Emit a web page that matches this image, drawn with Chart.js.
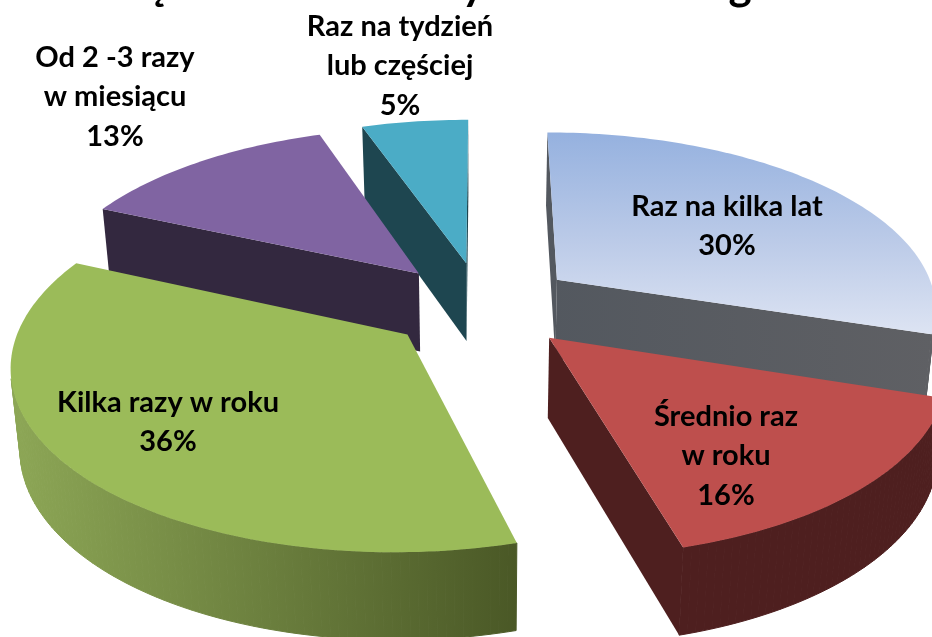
<!DOCTYPE html>
<html>
<head>
<meta charset="utf-8">
<title>Pie</title>
<script src="https://cdn.jsdelivr.net/npm/chart.js@4"></script>
<style>
  html, body { margin: 0; padding: 0; background: #fff; overflow: hidden; }
  canvas { display: block; }
</style>
</head>
<body>
<canvas id="pie" width="932" height="637"></canvas>
<script>
/* global Chart */

var categories = ["Raz na kilka lat", "Średnio raz w roku", "Kilka razy w roku", "Od 2 -3 razy w miesiącu", "Raz na tydzień lub częściej"];
// the labels show these rounded
var values = [30, 15.7, 36, 13, 5.3];

// how each label is broken and where its block is centred
var labelLines = [["Raz na kilka lat"], ["Średnio raz", "w roku"], ["Kilka razy w roku"], ["Od 2 -3 razy", "w miesiącu"], ["Raz na tydzień", "lub częściej"]];
var labelCenters = [[727, 226], [726, 456], [168, 422], [115, 97], [400, 66]];

// only the tails of the title survive in the crop
var titleTails = ["ą", "y", "g"];
var titleTailX = [153, 473, 740];

var topColors = [null, "#BE4F4D", "#9BBB59", "#8064A2", "#4BACC6"];
var sideColors = [["#53585f", "#5f6064"], ["#4e1f1f", "#4e1f1f"], ["#8da756", "#4a5826"], ["#33283f", "#33283f"], ["#1e4650", "#1e4650"]];
var drawOrder = [4, 0, 3, 2, 1];

var view = { cx: 481.5, cy: 305, rx: 381, ry: 176, persp: 0.148, explode: 0.25 };

function project(x, y) {
  var w = 1 - view.persp * y;
  return { x: view.cx + (view.rx * x) / w, y: view.cy + (view.ry * y) / w };
}

function dropDown(p) {
  return { x: p.x + (480 - p.x) * 0.02, y: p.y + 78 + (p.y - 270) * 0.035 };
}

function sliceOutline(arc) {
  var a0 = arc.startAngle + Math.PI / 2;
  var a1 = arc.endAngle + Math.PI / 2;
  var mid = (a0 + a1) / 2;
  var ox = view.explode * Math.sin(mid);
  var oy = -view.explode * Math.cos(mid);
  var pts = [project(ox, oy)];
  var n = Math.ceil((a1 - a0) / 0.02);
  for (var i = 0; i <= n; i++) {
    var t = a0 + ((a1 - a0) * i) / n;
    pts.push(project(ox + Math.sin(t), oy - Math.cos(t)));
  }
  return pts;
}

function fillPoly(ctx, pts) {
  ctx.beginPath();
  pts.forEach(function (p, i) {
    if (i === 0) ctx.moveTo(p.x, p.y);
    else ctx.lineTo(p.x, p.y);
  });
  ctx.closePath();
  ctx.fill();
}

var pie3d = {
  id: "pie3d",
  beforeDatasetsDraw: function (chart) {
    var ctx = chart.ctx;
    var arcs = chart.getDatasetMeta(0).data;
    drawOrder.forEach(function (idx) {
      var pts = sliceOutline(arcs[idx]);
      var xs = pts.map(function (p) { return p.x; });
      var grad = ctx.createLinearGradient(Math.min.apply(null, xs), 0, Math.max.apply(null, xs), 0);
      grad.addColorStop(0, sideColors[idx][0]);
      grad.addColorStop(1, sideColors[idx][1]);
      ctx.fillStyle = grad;
      ctx.strokeStyle = grad;
      ctx.lineWidth = 1;
      for (var i = 0; i < pts.length; i++) {
        var a = pts[i];
        var b = pts[(i + 1) % pts.length];
        var c = dropDown(b);
        var d = dropDown(a);
        var area = 0;
        [a, b, c, d].forEach(function (p, k, q) {
          var r = q[(k + 1) % 4];
          area += p.x * r.y - r.x * p.y;
        });
        // only walls turned towards the viewer
        if (area < 0) {
          fillPoly(ctx, [a, b, c, d]);
          // the curved wall is many quads, the stroke hides the seams
          if (i > 0 && i < pts.length - 1) ctx.stroke();
        }
      }
      if (topColors[idx]) {
        ctx.fillStyle = topColors[idx];
      } else {
        var ys = pts.map(function (p) { return p.y; });
        var topGrad = ctx.createLinearGradient(0, Math.min.apply(null, ys), 0, Math.max.apply(null, ys) + 20);
        topGrad.addColorStop(0, "#95b1df");
        topGrad.addColorStop(0.5, "#bccbe8");
        topGrad.addColorStop(1, "#e4e9f5");
        ctx.fillStyle = topGrad;
      }
      fillPoly(ctx, pts);
    });
    return false;
  },
  afterDraw: function (chart) {
    var ctx = chart.ctx;
    ctx.save();
    ctx.fillStyle = "#000";
    ctx.textAlign = "center";
    ctx.textBaseline = "middle";
    ctx.font = "bold 29px Lato";
    labelLines.forEach(function (lines, i) {
      var rows = lines.concat([Math.round(values[i]) + "%"]);
      rows.forEach(function (row, r) {
        ctx.fillText(row, labelCenters[i][0], labelCenters[i][1] + (r - (rows.length - 1) / 2) * 39.5);
      });
    });
    ctx.textBaseline = "alphabetic";
    ctx.font = "bold 44px Lato";
    titleTails.forEach(function (ch, i) {
      ctx.fillText(ch, titleTailX[i], 0);
    });
    ctx.restore();
  },
};

new Chart(document.getElementById("pie"), {
  type: "pie",
  data: {
    labels: categories,
    datasets: [{ data: values, backgroundColor: topColors, borderWidth: 0 }],
  },
  options: {
    responsive: false,
    animation: false,
    plugins: { legend: { display: false }, tooltip: { enabled: false } },
  },
  plugins: [pie3d],
});
</script>
</body>
</html>
